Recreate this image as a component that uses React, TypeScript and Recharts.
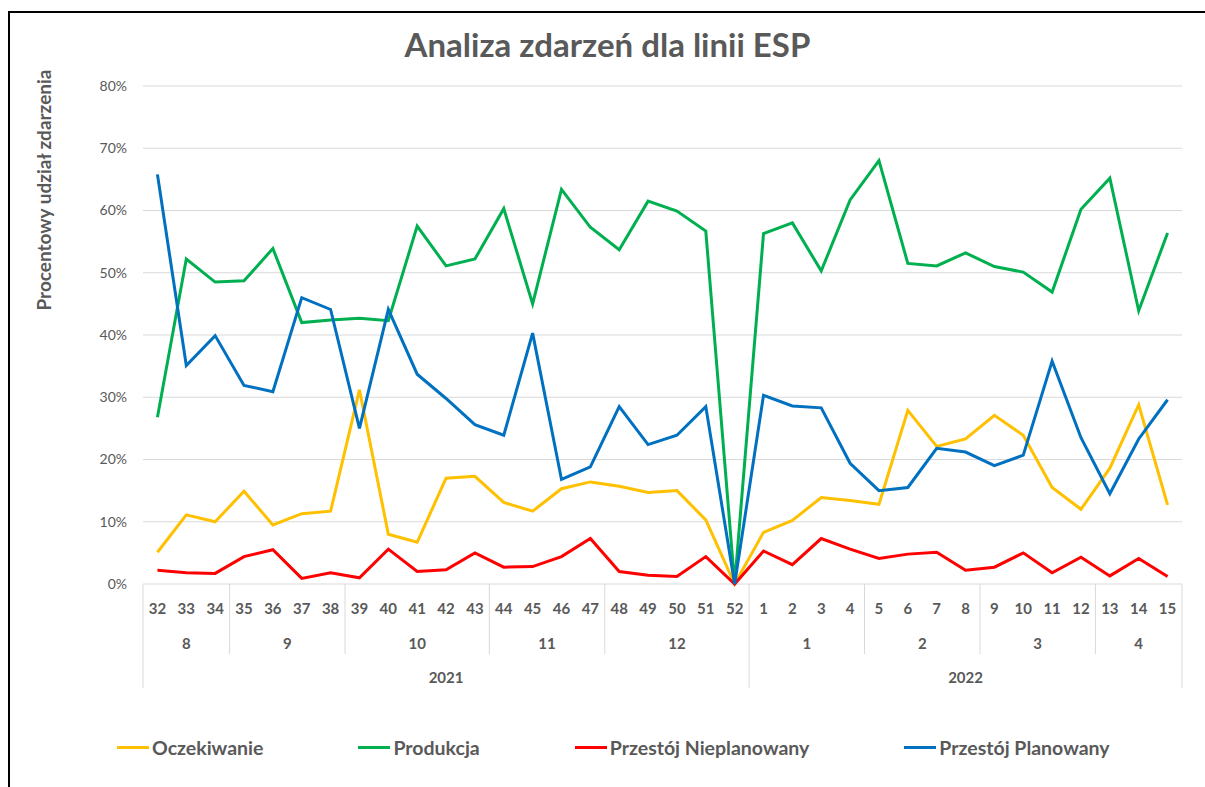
import { LineChart, Line, XAxis, YAxis, CartesianGrid, Legend } from 'recharts';

// kategorie: tydzień / miesiąc / rok
const weekLabels = [
  '32', '33', '34', '35', '36', '37', '38', '39', '40', '41', '42', '43', '44', '45', '46', '47', '48', '49', '50', '51', '52',
  '1', '2', '3', '4', '5', '6', '7', '8', '9', '10', '11', '12', '13', '14', '15',
];
const monthLabels = [
  '8', '8', '8', '9', '9', '9', '9', '10', '10', '10', '10', '10', '11', '11', '11', '11', '12', '12', '12', '12', '12',
  '1', '1', '1', '1', '2', '2', '2', '2', '3', '3', '3', '3', '4', '4', '4',
];
const yearLabels = [
  ...Array(21).fill('2021'),
  ...Array(15).fill('2022'),
];

// wartości w %
const oczekiwanie = [
  5.1, 11.1, 10.0, 14.9, 9.5, 11.3, 11.7, 31.2, 8.0, 6.7, 17.0, 17.3, 13.1, 11.7, 15.3, 16.4, 15.7, 14.7, 15.0, 10.3, 0,
  8.3, 10.2, 13.9, 13.4, 12.8, 27.9, 22.1, 23.3, 27.1, 23.9, 15.5, 12.0, 18.6, 28.8, 12.7,
];
const produkcja = [
  26.8, 52.2, 48.5, 48.7, 53.9, 42.0, 42.4, 42.7, 42.3, 57.5, 51.1, 52.2, 60.3, 45.0, 63.4, 57.3, 53.7, 61.5, 59.9, 56.7, 0,
  56.3, 58.0, 50.3, 61.7, 68.0, 51.5, 51.1, 53.2, 51.0, 50.1, 46.9, 60.2, 65.2, 43.9, 56.4,
];
const nieplanowany = [
  2.2, 1.8, 1.7, 4.4, 5.5, 0.9, 1.8, 1.0, 5.6, 2.0, 2.3, 5.0, 2.7, 2.8, 4.4, 7.3, 2.0, 1.4, 1.2, 4.4, 0,
  5.3, 3.1, 7.3, 5.6, 4.1, 4.8, 5.1, 2.2, 2.7, 5.0, 1.8, 4.3, 1.3, 4.1, 1.2,
];
const planowany = [
  65.8, 35.1, 39.9, 31.9, 30.9, 46.0, 44.1, 25.0, 44.1, 33.7, 29.8, 25.6, 23.9, 40.3, 16.8, 18.8, 28.5, 22.4, 23.9, 28.5, 0,
  30.3, 28.6, 28.3, 19.4, 15.0, 15.5, 21.8, 21.2, 19.0, 20.7, 35.8, 23.5, 14.5, 23.3, 29.6,
];

const yTicks = [0, 10, 20, 30, 40, 50, 60, 70, 80];

const series = [
  { key: 'oczekiwanie', name: 'Oczekiwanie', color: '#FFC000' },
  { key: 'produkcja', name: 'Produkcja', color: '#00B050' },
  { key: 'nieplanowany', name: 'Przestój Nieplanowany', color: '#FF0000' },
  { key: 'planowany', name: 'Przestój Planowany', color: '#0070C0' },
];

const data = weekLabels.map((w, i) => ({
  week: w,
  oczekiwanie: oczekiwanie[i],
  produkcja: produkcja[i],
  nieplanowany: nieplanowany[i],
  planowany: planowany[i],
}));

const W = 1205;
const H = 787;
const MARGIN = { top: 86, right: 23, bottom: 0, left: 0 };
const Y_W = 143;
const X_H = 203;
const BAND = (W - MARGIN.left - MARGIN.right - Y_W) / weekLabels.length;

const FONT = 'Lato, "Open Sans", sans-serif';
const TXT = '#595959';
const GRID = '#d9d9d9';

function runLength(labels: string[], i: number) {
  let n = 1;
  while (i + n < labels.length && labels[i + n] === labels[i]) n++;
  return n;
}

function CategoryTick(props: any) {
  const { x, y, payload } = props;
  const i = props.index ?? payload.index;
  const left = x - BAND / 2;
  const monthStart = i === 0 || monthLabels[i - 1] !== monthLabels[i];
  const yearStart = i === 0 || yearLabels[i - 1] !== yearLabels[i];
  const last = i === weekLabels.length - 1;
  const textProps = { fill: TXT, fontFamily: FONT, fontSize: 15, fontWeight: 700, textAnchor: 'middle' as const, dominantBaseline: 'central' as const };
  return (
    <g>
      <text x={x} y={y + 24} {...textProps}>{weekLabels[i]}</text>
      {monthStart && (
        <line x1={left} y1={y} x2={left} y2={y + (yearStart ? 104 : 70)} stroke={GRID} />
      )}
      {monthStart && (
        <text x={left + (runLength(monthLabels, i) * BAND) / 2} y={y + 59} {...textProps}>{monthLabels[i]}</text>
      )}
      {yearStart && (
        <text x={left + (runLength(yearLabels, i) * BAND) / 2} y={y + 93} {...textProps}>{yearLabels[i]}</text>
      )}
      {last && <line x1={x + BAND / 2} y1={y} x2={x + BAND / 2} y2={y + 104} stroke={GRID} />}
    </g>
  );
}

function LegendContent() {
  return (
    <div style={{ display: 'flex', alignItems: 'center', gap: 95, paddingLeft: 117, height: 20 }}>
      {series.map((s) => (
        <div key={s.key} style={{ display: 'flex', alignItems: 'center' }}>
          <div style={{ width: 32, height: 3, background: s.color, marginRight: 3 }} />
          <span style={{ fontFamily: FONT, fontSize: 19.5, fontWeight: 700, color: TXT, whiteSpace: 'nowrap' }}>{s.name}</span>
        </div>
      ))}
    </div>
  );
}

export default function App() {
  return (
    <div style={{ position: 'fixed', left: 0, top: 0, width: W, height: H, background: '#fff', overflow: 'hidden' }}>
      <div
        style={{
          position: 'absolute', left: 8, top: 11, width: W, height: H,
          borderLeft: '2px solid #000', borderTop: '2px solid #000', boxSizing: 'border-box',
        }}
      />
      <div
        style={{
          position: 'absolute', left: 0, top: 28, width: 1215, textAlign: 'center',
          fontFamily: FONT, fontSize: 33, fontWeight: 700, color: TXT, lineHeight: '33px',
        }}
      >
        Analiza zdarzeń dla linii ESP
      </div>
      <LineChart width={W} height={H} data={data} margin={MARGIN}>
        <CartesianGrid vertical={false} stroke={GRID} />
        <XAxis
          dataKey="week"
          scale="band"
          height={X_H}
          interval={0}
          axisLine={false}
          tickLine={false}
          tickSize={0}
          tickMargin={0}
          tick={<CategoryTick />}
        />
        <YAxis
          width={Y_W}
          domain={[0, 80]}
          ticks={yTicks}
          axisLine={false}
          tickLine={false}
          tickSize={0}
          tickMargin={16}
          tickFormatter={(v) => `${v}%`}
          tick={{ fill: TXT, fontFamily: FONT, fontSize: 14 }}
          label={{
            content: () => (
              <text
                x={43}
                y={190}
                transform="rotate(-90 43 190)"
                textAnchor="middle"
                dominantBaseline="central"
                fill={TXT}
                fontFamily={FONT}
                fontSize={19}
                fontWeight={700}
              >
                Procentowy udział zdarzenia
              </text>
            ),
          }}
        />
        <Legend
          layout="horizontal"
          verticalAlign="middle"
          align="center"
          content={<LegendContent />}
          wrapperStyle={{ left: 0, top: 737, width: W }}
        />
        {series.map((s) => (
          <Line
            key={s.key}
            type="linear"
            dataKey={s.key}
            name={s.name}
            stroke={s.color}
            strokeWidth={3}
            dot={false}
            activeDot={false}
            isAnimationActive={false}
          />
        ))}
      </LineChart>
    </div>
  );
}
